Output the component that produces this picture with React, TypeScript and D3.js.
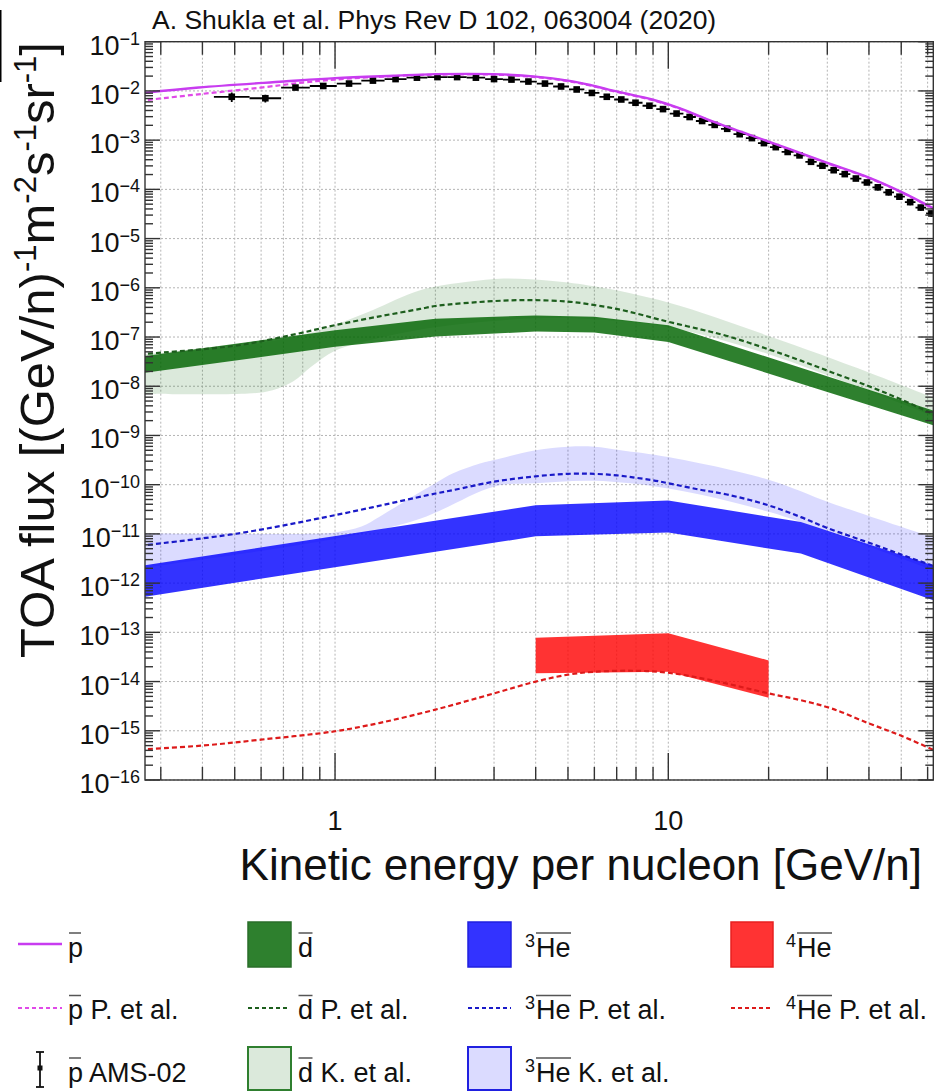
import React from "react";
import * as d3 from "d3";

// ---------- data: kinetic energy per nucleon [GeV/n] and TOA flux ----------

// antiproton model (solid) and P. et al. (dotted)
const pbarE = [0.26, 0.39, 0.7, 1, 1.5, 2, 3, 4, 5, 5.83, 7, 9, 10.8, 13.7, 20, 30, 40, 50, 63];
const pbarFlux = [8.91e-3, 1.17e-2, 1.55e-2, 1.82e-2, 2.04e-2, 2.19e-2, 2.19e-2, 1.95e-2, 1.62e-2, 1.32e-2, 9.77e-3, 6.61e-3, 4.47e-3, 2.34e-3, 9.33e-4, 3.47e-4, 1.74e-4, 8.91e-5, 3.98e-5];
const pbarPE = [0.26, 0.4, 0.6, 0.8, 1.0, 1.5, 2, 3, 4, 5, 5.83, 7, 9, 10.8, 13.7, 20, 30, 40, 50, 63];
const pbarPFlux = [6.31e-3, 8.71e-3, 1.17e-2, 1.48e-2, 1.7e-2, 2.0e-2, 2.14e-2, 2.14e-2, 1.91e-2, 1.58e-2, 1.29e-2, 9.55e-3, 6.46e-3, 4.37e-3, 2.29e-3, 9.12e-4, 3.39e-4, 1.7e-4, 8.71e-5, 3.89e-5];

// AMS-02 antiproton points: bin edges, flux and relative error
const amsEdges = [0.433, 0.554, 0.689, 0.84, 1.012, 1.199, 1.408, 1.639, 1.892, 2.176, 2.483, 2.821, 3.19, 3.59, 4.031, 4.513, 5.036, 5.599, 6.214, 6.878, 7.594, 8.369, 9.205, 10.1, 11.1, 12.1, 13.19, 14.39, 15.69, 17.09, 18.58, 20.18, 21.88, 23.78, 25.78, 27.88, 30.18, 32.57, 35.17, 37.97, 40.97, 44.17, 47.57, 51.27, 55.17, 59.37, 63.87];
const amsFlux = [7.6e-3, 7.1e-3, 1.17e-2, 1.26e-2, 1.41e-2, 1.62e-2, 1.74e-2, 1.86e-2, 1.91e-2, 1.91e-2, 1.86e-2, 1.74e-2, 1.7e-2, 1.55e-2, 1.41e-2, 1.23e-2, 1.07e-2, 9.1e-3, 7.6e-3, 6.7e-3, 5.75e-3, 5.0e-3, 4.27e-3, 3.47e-3, 2.95e-3, 2.45e-3, 2.04e-3, 1.7e-3, 1.32e-3, 1.1e-3, 8.7e-4, 7.2e-4, 5.75e-4, 4.9e-4, 3.63e-4, 3.02e-4, 2.45e-4, 2.04e-4, 1.66e-4, 1.38e-4, 1.1e-4, 8.7e-5, 7.1e-5, 5.5e-5, 4.27e-5, 3.24e-5];
const amsErr = [0.22, 0.18, 0.06, 0.06, 0.06, 0.06, 0.06, 0.06, 0.06, 0.06, 0.06, 0.06, 0.06, 0.06, 0.06, 0.06, 0.06, 0.06, 0.06, 0.06, 0.06, 0.06, 0.06, 0.06, 0.06, 0.06, 0.06, 0.06, 0.06, 0.06, 0.1, 0.1, 0.1, 0.1, 0.1, 0.1, 0.1, 0.1, 0.1, 0.1, 0.14, 0.14, 0.14, 0.14, 0.14, 0.14];

// antideuteron band, K. et al. band and P. et al. curve
const dbarE = [0.26, 1, 2, 4, 6, 10, 63];
const dbarHigh = [3.98e-8, 1.38e-7, 2.34e-7, 2.75e-7, 2.57e-7, 1.74e-7, 3.16e-9];
const dbarLow = [1.82e-8, 6.31e-8, 1.02e-7, 1.29e-7, 1.23e-7, 7.94e-8, 1.58e-9];
const dbarKHighE = [0.26, 0.5, 0.8, 1.0, 1.3, 1.8, 2.5, 3.2, 4.5, 6, 10, 20, 40, 63];
const dbarKHigh = [4.47e-8, 6.31e-8, 1.12e-7, 1.78e-7, 3.55e-7, 8.91e-7, 1.32e-6, 1.55e-6, 1.38e-6, 1.07e-6, 5.01e-7, 1.05e-7, 1.91e-8, 5.75e-9];
const dbarKLowE = [0.26, 0.55, 0.65, 0.75, 0.85, 1.0, 1.3, 2, 4, 6, 10, 20, 63];
const dbarKLow = [7.08e-9, 7.08e-9, 8.32e-9, 1.26e-8, 2.51e-8, 5.25e-8, 8.91e-8, 1.58e-7, 2.4e-7, 2.29e-7, 1.58e-7, 4.47e-8, 2.4e-9];
const dbarPE = [0.26, 0.51, 0.75, 1.0, 1.36, 1.8, 2, 3, 3.85, 5, 6, 7, 8, 9, 10, 12.4, 15, 20, 25, 31, 40, 50, 63];
const dbarPFlux = [4.47e-8, 6.76e-8, 1.12e-7, 1.74e-7, 2.63e-7, 3.72e-7, 4.27e-7, 5.37e-7, 5.62e-7, 5.25e-7, 4.47e-7, 3.72e-7, 3.02e-7, 2.45e-7, 2.04e-7, 1.45e-7, 1.05e-7, 5.62e-8, 3.31e-8, 1.91e-8, 1.0e-8, 5.37e-9, 2.63e-9];

// antihelium-3 band, K. et al. band and P. et al. curve
const he3E = [0.26, 4, 10, 25, 63];
const he3High = [2.24e-12, 3.8e-11, 4.79e-11, 1.74e-11, 2.24e-12];
const he3Low = [5.13e-13, 8.91e-12, 1.07e-11, 3.98e-12, 4.37e-13];
const he3KHighE = [0.26, 0.5, 0.8, 1.0, 1.2, 1.36, 1.7, 2.0, 2.26, 2.72, 3.0, 4.0, 5.0, 6.0, 7.2, 10, 20, 31, 63];
const he3KHigh = [1.02e-11, 1.0e-11, 1.0e-11, 1.07e-11, 1.41e-11, 2.24e-11, 5.62e-11, 1.07e-10, 1.7e-10, 2.69e-10, 3.16e-10, 5.01e-10, 5.89e-10, 5.89e-10, 5.01e-10, 3.63e-10, 1.26e-10, 4.17e-11, 8.32e-12];
const he3KLowE = [0.26, 1.0, 1.8, 3.0, 4.0, 6.0, 10, 20, 30, 63];
const he3KLow = [2.0e-12, 7.94e-12, 2.04e-11, 9.12e-11, 1.07e-10, 1.2e-10, 8.32e-11, 2.82e-11, 1.12e-11, 1.78e-12];
const he3PE = [0.26, 0.51, 1, 2, 2.26, 3, 4, 5, 6, 7, 8, 9, 10, 12.4, 15, 20, 25, 30, 40, 50, 63];
const he3PFlux = [5.75e-12, 1.02e-11, 2.4e-11, 6.61e-11, 7.76e-11, 1.15e-10, 1.48e-10, 1.66e-10, 1.66e-10, 1.55e-10, 1.38e-10, 1.23e-10, 1.07e-10, 7.94e-11, 6.31e-11, 3.8e-11, 2.19e-11, 1.32e-11, 6.61e-12, 3.8e-12, 2.19e-12];

// antihelium-4 band and P. et al. curve
const he4E = [4, 10, 20];
const he4High = [7.76e-14, 9.55e-14, 2.69e-14];
const he4Low = [1.48e-14, 1.58e-14, 4.68e-15];
const he4PE = [0.26, 0.4, 0.6, 1, 1.365, 2, 3, 4, 5, 6, 7.8, 10, 13.6, 20, 25, 31, 40, 50, 63];
const he4PFlux = [4.17e-16, 5.01e-16, 6.61e-16, 9.77e-16, 1.45e-15, 2.69e-15, 5.75e-15, 1.0e-14, 1.38e-14, 1.58e-14, 1.66e-14, 1.51e-14, 1.05e-14, 5.75e-15, 4.17e-15, 2.82e-15, 1.41e-15, 7.94e-16, 3.98e-16];

// axes
const xGridTicks = [0.3, 0.4, 0.5, 0.6, 0.7, 0.8, 0.9, 1, 2, 3, 4, 5, 6, 7, 8, 9, 10, 20, 30, 40, 50, 60];
const xLabelTicks = [1, 10];
const yExponents = [-16, -15, -14, -13, -12, -11, -10, -9, -8, -7, -6, -5, -4, -3, -2, -1];

// ---------- layout ----------
const W = 939;
const H = 1091;
const X0 = 145;
const X1 = 933.3;
const Y0 = 41.7;
const Y1 = 780;
const FONT = "'Liberation Sans', Arial, Helvetica, sans-serif";

const xScale = d3.scaleLog().domain([0.269, 62.4]).range([X0, X1]);
const yScale = d3.scaleLog().domain([1e-16, 1e-1]).range([Y1, Y0]);

const pts = (E: number[], F: number[]): [number, number][] =>
  E.map((e, i) => [xScale(e), yScale(F[i])] as [number, number]);

const smoothLine = d3.line().curve(d3.curveCatmullRom.alpha(0.5));
const straightLine = d3.line();

function band(Eu: number[], Fu: number[], El: number[], Fl: number[], smooth: boolean): string {
  const gen = smooth ? smoothLine : straightLine;
  const up = gen(pts(Eu, Fu)) || "";
  const lo = gen(pts(El, Fl).reverse()) || "";
  return up + "L" + lo.slice(1) + "Z";
}

const C = {
  pbar: "#c83cf0",
  pbarP: "#e04ae8",
  dDark: "rgba(0,100,0,0.82)",
  dLight: "rgba(0,100,0,0.14)",
  dLine: "#1d5e1d",
  bDark: "rgba(0,0,255,0.8)",
  bLight: "rgba(0,0,255,0.14)",
  bLine: "#1a1ac8",
  rDark: "rgba(255,0,0,0.8)",
  rLine: "#dd1a1a",
};

function Sup10({ e, y }: { e: number; y: number }) {
  return (
    <text x={140} y={y + 13} textAnchor="end" fontSize={27} fontFamily={FONT} fill="#111">
      10
      <tspan dy={-10} fontSize={18}>{"\u2212" + Math.abs(e)}</tspan>
    </text>
  );
}

function Over({ x, w, base }: { x: number; w: number; base: number }) {
  return <line x1={x} x2={x + w} y1={base - 23.5} y2={base - 23.5} stroke="#555" strokeWidth={1.5} />;
}

export default function App() {
  const yMinor: number[] = [];
  yExponents.forEach((e) => {
    for (let m = 2; m <= 9; m++) {
      if (e < -1) yMinor.push(m * Math.pow(10, e));
    }
  });

  const rows = [956.5, 1019, 1081.5];
  const lf = 27;

  return (
    <svg width={W} height={H} style={{ position: "absolute", left: 0, top: 0, background: "#fff" }} fontFamily={FONT}>
      <defs>
        <clipPath id="plotArea">
          <rect x={X0} y={Y0} width={X1 - X0} height={Y1 - Y0} />
        </clipPath>
      </defs>
      <rect x={0} y={0} width={W} height={H} fill="#fff" />
      <line x1={0.75} x2={0.75} y1={10} y2={82} stroke="#000" strokeWidth={1.5} />

      {/* title */}
      <text x={152} y={29} fontSize={26.5} fill="#111">A. Shukla et al. Phys Rev D 102, 063004 (2020)</text>

      {/* grid */}
      <g stroke="#b4b4b4" strokeWidth={1} strokeDasharray="2,2">
        {xGridTicks.map((t) => (
          <line key={"gx" + t} x1={xScale(t)} x2={xScale(t)} y1={Y0} y2={Y1} />
        ))}
        {yExponents.map((e) => (
          <line key={"gy" + e} x1={X0} x2={X1} y1={yScale(Math.pow(10, e))} y2={yScale(Math.pow(10, e))} />
        ))}
      </g>

      <g clipPath="url(#plotArea)">
        {/* K. et al. bands */}
        <path d={band(dbarKHighE, dbarKHigh, dbarKLowE, dbarKLow, true)} fill={C.dLight} />
        <path d={band(he3KHighE, he3KHigh, he3KLowE, he3KLow, true)} fill={C.bLight} />
        {/* this work bands */}
        <path d={band(dbarE, dbarHigh, dbarE, dbarLow, false)} fill={C.dDark} />
        <path d={band(he3E, he3High, he3E, he3Low, false)} fill={C.bDark} />
        <path d={band(he4E, he4High, he4E, he4Low, false)} fill={C.rDark} />

        {/* P. et al. curves */}
        <path d={smoothLine(pts(dbarPE, dbarPFlux)) || ""} fill="none" stroke={C.dLine} strokeWidth={2.2} strokeDasharray="5,3" />
        <path d={smoothLine(pts(he3PE, he3PFlux)) || ""} fill="none" stroke={C.bLine} strokeWidth={2.2} strokeDasharray="5,3" />
        <path d={smoothLine(pts(he4PE, he4PFlux)) || ""} fill="none" stroke={C.rLine} strokeWidth={2.2} strokeDasharray="5,3" />
        <path d={smoothLine(pts(pbarPE, pbarPFlux)) || ""} fill="none" stroke={C.pbarP} strokeWidth={2.2} strokeDasharray="5,3" />

        {/* AMS-02 antiprotons */}
        <g stroke="#000" strokeWidth={1.8}>
          {amsFlux.map((f, i) => {
            const lo = amsEdges[i];
            const hi = amsEdges[i + 1];
            const cx = xScale(Math.sqrt(lo * hi));
            const cy = yScale(f);
            return (
              <g key={"ams" + i}>
                <line x1={xScale(lo)} x2={xScale(hi)} y1={cy} y2={cy} />
                <line x1={cx} x2={cx} y1={yScale(f * (1 + amsErr[i]))} y2={yScale(f * (1 - amsErr[i]))} />
                <rect x={cx - 3.3} y={cy - 3.3} width={6.6} height={6.6} fill="#000" stroke="none" />
              </g>
            );
          })}
        </g>

        {/* antiproton model */}
        <path d={smoothLine(pts(pbarE, pbarFlux)) || ""} fill="none" stroke={C.pbar} strokeWidth={2.4} />
      </g>

      {/* frame and ticks */}
      <g stroke="#333" strokeWidth={1.4}>
        {yExponents.map((e) => {
          const y = yScale(Math.pow(10, e));
          return (
            <g key={"ty" + e}>
              <line x1={X0} x2={X0 + 15} y1={y} y2={y} />
              <line x1={X1} x2={X1 - 15} y1={y} y2={y} />
            </g>
          );
        })}
        {yMinor.map((v, i) => {
          const y = yScale(v);
          return (
            <g key={"tm" + i}>
              <line x1={X0} x2={X0 + 8} y1={y} y2={y} />
              <line x1={X1} x2={X1 - 8} y1={y} y2={y} />
            </g>
          );
        })}
        {xGridTicks.map((t) => {
          const x = xScale(t);
          const len = xLabelTicks.includes(t) ? 27 : 13;
          return (
            <g key={"tx" + t}>
              <line x1={x} x2={x} y1={Y1} y2={Y1 - len} />
              <line x1={x} x2={x} y1={Y0} y2={Y0 + len} />
            </g>
          );
        })}
        <rect x={X0} y={Y0} width={X1 - X0} height={Y1 - Y0} fill="none" />
      </g>

      {/* tick labels */}
      {yExponents.map((e) => (
        <Sup10 key={"ly" + e} e={e} y={yScale(Math.pow(10, e))} />
      ))}
      {xLabelTicks.map((t) => (
        <text key={"lx" + t} x={xScale(t)} y={830} textAnchor="middle" fontSize={27} fill="#111">
          {t}
        </text>
      ))}

      {/* axis titles */}
      <text x={922} y={880} textAnchor="end" fontSize={44} fill="#111">
        Kinetic energy per nucleon [GeV/n]
      </text>
      <text transform="translate(54,42) rotate(-90)" textAnchor="end" fontSize={49} fill="#111">
        TOA flux [(GeV/n)
        <tspan dy={-18} fontSize={31}>-1</tspan>
        <tspan dy={18}>m</tspan>
        <tspan dy={-18} fontSize={31}>-2</tspan>
        <tspan dy={18}>s</tspan>
        <tspan dy={-18} fontSize={31}>-1</tspan>
        <tspan dy={18}>sr</tspan>
        <tspan dy={-18} fontSize={31}>-1</tspan>
        <tspan dy={18}>]</tspan>
      </text>

      {/* legend */}
      <g fontSize={lf} fill="#111">
        {/* column 1 */}
        <line x1={18} x2={62} y1={944} y2={944} stroke={C.pbar} strokeWidth={2.4} />
        <text x={68} y={rows[0]}>p</text>
        <Over x={69} w={12} base={rows[0]} />
        <line x1={18} x2={62} y1={1008} y2={1008} stroke={C.pbarP} strokeWidth={2.2} strokeDasharray="4,3" />
        <text x={68} y={rows[1]}>p P. et al.</text>
        <Over x={69} w={12} base={rows[1]} />
        <g stroke="#111" strokeWidth={1.8}>
          <line x1={40} x2={40} y1={1052} y2={1087} />
          <line x1={36} x2={44} y1={1052} y2={1052} />
          <line x1={36} x2={44} y1={1087} y2={1087} />
          <rect x={37.5} y={1065.5} width={5} height={5} fill="#111" stroke="none" />
        </g>
        <text x={68} y={rows[2]}>p AMS-02</text>
        <Over x={69} w={12} base={rows[2]} />

        {/* column 2 */}
        <rect x={248} y={922} width={43} height={45} fill={C.dDark} stroke="#2a6e2a" strokeWidth={1.5} />
        <text x={298} y={rows[0]}>d</text>
        <Over x={298.5} w={14} base={rows[0]} />
        <line x1={248} x2={290} y1={1008} y2={1008} stroke={C.dLine} strokeWidth={2.2} strokeDasharray="4,3" />
        <text x={298} y={rows[1]}>d P. et al.</text>
        <Over x={298.5} w={14} base={rows[1]} />
        <rect x={248} y={1047} width={43} height={43} fill={C.dLight} stroke="#2f7f2f" strokeWidth={2} />
        <text x={298} y={rows[2]}>d K. et al.</text>
        <Over x={298.5} w={14} base={rows[2]} />

        {/* column 3 */}
        <rect x={468} y={922} width={43} height={45} fill={C.bDark} stroke="#2020e0" strokeWidth={1.5} />
        <text x={525} y={rows[0] - 10} fontSize={18}>3</text>
        <text x={536} y={rows[0]}>He</text>
        <Over x={536} w={35} base={rows[0]} />
        <line x1={468} x2={511} y1={1008} y2={1008} stroke={C.bLine} strokeWidth={2.2} strokeDasharray="4,3" />
        <text x={525} y={rows[1] - 10} fontSize={18}>3</text>
        <text x={536} y={rows[1]}>He P. et al.</text>
        <Over x={536} w={35} base={rows[1]} />
        <rect x={468} y={1047} width={43} height={43} fill={C.bLight} stroke="#2020e0" strokeWidth={2} />
        <text x={525} y={rows[2] - 10} fontSize={18}>3</text>
        <text x={536} y={rows[2]}>He K. et al.</text>
        <Over x={536} w={35} base={rows[2]} />

        {/* column 4 */}
        <rect x={731} y={922} width={42} height={45} fill={C.rDark} stroke="#e82020" strokeWidth={1.5} />
        <text x={786} y={rows[0] - 10} fontSize={18}>4</text>
        <text x={797} y={rows[0]}>He</text>
        <Over x={797} w={35} base={rows[0]} />
        <line x1={731} x2={773} y1={1008} y2={1008} stroke={C.rLine} strokeWidth={2.2} strokeDasharray="4,3" />
        <text x={786} y={rows[1] - 10} fontSize={18}>4</text>
        <text x={797} y={rows[1]}>He P. et al.</text>
        <Over x={797} w={35} base={rows[1]} />
      </g>
    </svg>
  );
}
